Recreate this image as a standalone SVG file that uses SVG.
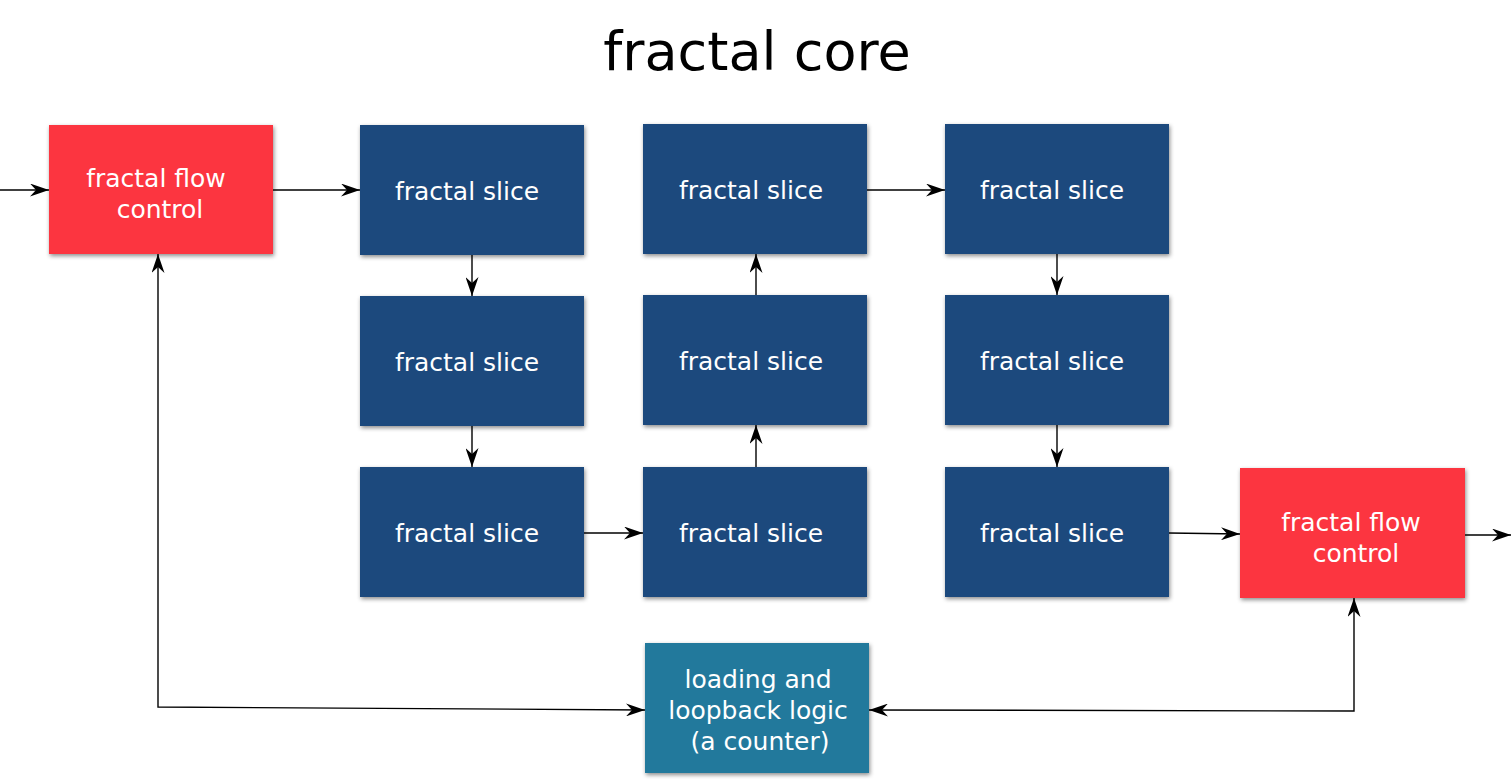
<svg xmlns="http://www.w3.org/2000/svg" width="1512" height="782" viewBox="0 0 1512 782">
<style>
.t{font-family:"DejaVu Sans","Liberation Sans",sans-serif;fill:#fff;font-size:25px;text-anchor:middle}
.red{fill:#fc3541}
.blue{fill:#1f497d}
.teal{fill:#23799c}
.c{fill:none;stroke:#000;stroke-width:1.4;marker-end:url(#a)}
</style>
<defs>
<filter id="s" x="-10%" y="-10%" width="120%" height="125%">
<feDropShadow dx="1" dy="2" stdDeviation="2" flood-color="#000" flood-opacity="0.45"/>
</filter>
<marker id="a" viewBox="0 0 19 13" refX="19" refY="6.5" markerWidth="19" markerHeight="13" markerUnits="userSpaceOnUse" orient="auto-start-reverse">
<path d="M0,0 L19,6.5 L0,13 L6,6.5 z" fill="#000"/>
</marker>
</defs>
<rect width="1512" height="782" fill="#fff"/>
<text x="757" y="70" style="font-family:'DejaVu Sans','Liberation Sans',sans-serif;font-size:54px;fill:#000;text-anchor:middle">fractal core</text>

<g id="connectors">
<path class="c" d="M0,190 L49,190"/>
<path class="c" d="M273,190 L360,190"/>
<path class="c" d="M472,255 L472,296"/>
<path class="c" d="M472,426 L472,467"/>
<path class="c" d="M584,533 L643,533"/>
<path class="c" d="M756,467 L756,425"/>
<path class="c" d="M756,295 L756,254"/>
<path class="c" d="M867,190 L945,190"/>
<path class="c" d="M1057,254 L1057,295"/>
<path class="c" d="M1057,425 L1057,467"/>
<path class="c" d="M1169,533 L1240,534"/>
<path class="c" d="M1465,535 L1511,535"/>
<path class="c" d="M158,254 L158,707 L645,710" style="marker-start:url(#a)"/>
<path class="c" d="M869,710 L1354,711 L1354,598" style="marker-start:url(#a)"/>
</g>

<g id="ffc1"><rect class="red" x="49" y="125" width="224" height="129" filter="url(#s)"/><text class="t" x="156" y="187">fractal flow</text><text class="t" x="160" y="218">control</text></g>

<g id="s11"><rect class="blue" x="360" y="125" width="224" height="130" filter="url(#s)"/><text class="t" x="467" y="200">fractal slice</text></g>
<g id="s12"><rect class="blue" x="360" y="296" width="224" height="130" filter="url(#s)"/><text class="t" x="467" y="371">fractal slice</text></g>
<g id="s13"><rect class="blue" x="360" y="467" width="224" height="130" filter="url(#s)"/><text class="t" x="467" y="542">fractal slice</text></g>

<g id="s21"><rect class="blue" x="643" y="124" width="224" height="130" filter="url(#s)"/><text class="t" x="751" y="199">fractal slice</text></g>
<g id="s22"><rect class="blue" x="643" y="295" width="224" height="130" filter="url(#s)"/><text class="t" x="751" y="370">fractal slice</text></g>
<g id="s23"><rect class="blue" x="643" y="467" width="224" height="130" filter="url(#s)"/><text class="t" x="751" y="542">fractal slice</text></g>

<g id="s31"><rect class="blue" x="945" y="124" width="224" height="130" filter="url(#s)"/><text class="t" x="1052" y="199">fractal slice</text></g>
<g id="s32"><rect class="blue" x="945" y="295" width="224" height="130" filter="url(#s)"/><text class="t" x="1052" y="370">fractal slice</text></g>
<g id="s33"><rect class="blue" x="945" y="467" width="224" height="130" filter="url(#s)"/><text class="t" x="1052" y="542">fractal slice</text></g>

<g id="ffc2"><rect class="red" x="1240" y="468" width="225" height="130" filter="url(#s)"/><text class="t" x="1351" y="531">fractal flow</text><text class="t" x="1356" y="562">control</text></g>

<g id="loop"><rect class="teal" x="645" y="643" width="224" height="130" filter="url(#s)"/><text class="t" x="758" y="688">loading and</text><text class="t" x="758" y="719">loopback logic</text><text class="t" x="760" y="750">(a counter)</text></g>
</svg>
